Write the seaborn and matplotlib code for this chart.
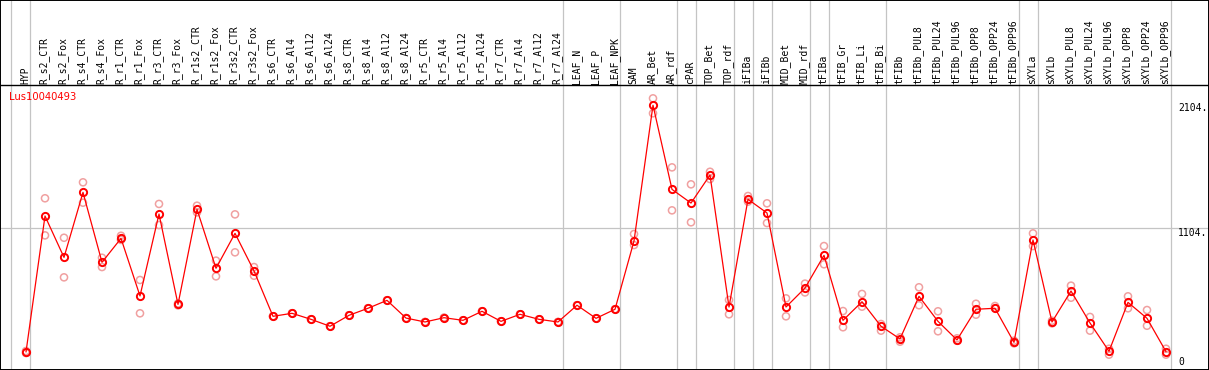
import matplotlib
matplotlib.use("Agg")
import matplotlib.pyplot as plt
import numpy as np
import seaborn as sns

gene = "Lus10040493"

samples = ["HYP", "R_s2_CTR", "R_s2_Fox", "R_s4_CTR", "R_s4_Fox", "R_r1_CTR", "R_r1_Fox",
           "R_r3_CTR", "R_r3_Fox", "R_r1s2_CTR", "R_r1s2_Fox", "R_r3s2_CTR", "R_r3s2_Fox",
           "R_s6_CTR", "R_s6_Al4", "R_s6_Al12", "R_s6_Al24", "R_s8_CTR", "R_s8_Al4", "R_s8_Al12",
           "R_s8_Al24", "R_r5_CTR", "R_r5_Al4", "R_r5_Al12", "R_r5_Al24", "R_r7_CTR", "R_r7_Al4",
           "R_r7_Al12", "R_r7_Al24", "LEAF_N", "LEAF_P", "LEAF_NPK", "SAM", "AR_Bet", "AR_rdf",
           "cPAR", "TOP_Bet", "TOP_rdf", "iFIBa", "iFIBb", "MID_Bet", "MID_rdf", "tFIBa",
           "tFIB_Gr", "tFIB_Li", "tFIB_Bi", "tFIBb", "tFIBb_PUL8", "tFIBb_PUL24", "tFIBb_PUL96",
           "tFIBb_OPP8", "tFIBb_OPP24", "tFIBb_OPP96", "sXYLa", "sXYLb", "sXYLb_PUL8",
           "sXYLb_PUL24", "sXYLb_PUL96", "sXYLb_OPP8", "sXYLb_OPP24", "sXYLb_OPP96"]

# number of samples in each group (grey separators between groups)
group_sizes = [1, 28, 3, 3, 1, 2, 1, 1, 2, 1, 3, 7, 1, 7]

mean = [120, 1202, 873, 1390, 834, 1024, 566, 1218, 499, 1255, 786, 1064, 765,
        404, 428, 380, 325, 412, 468, 531, 390, 359, 393, 372, 444, 364, 420, 380, 359,
        492, 388, 460, 1003, 2083, 1414, 1305, 1528, 478, 1335, 1226, 478, 629, 889,
        372, 520, 325, 224, 563, 364, 216, 460, 468, 197, 1011, 359, 605, 351, 126,
        515, 388, 123]
rep_a = [128, 1343, 1029, 1470, 870, 1045, 693, 1298, 506, 1284, 847, 1215, 796,
         404, 428, 380, 325, 412, 468, 531, 390, 359, 393, 372, 444, 364, 420, 380, 359,
         492, 388, 460, 1059, 2138, 1589, 1454, 1554, 534, 1361, 1303, 547, 664, 963,
         446, 582, 343, 237, 635, 444, 229, 504, 486, 210, 1064, 369, 648, 399, 146,
         563, 454, 146]
rep_b = [112, 1048, 714, 1308, 796, 1012, 428, 1130, 491, 1231, 722, 913, 727,
         404, 428, 380, 325, 412, 468, 531, 390, 359, 393, 372, 444, 364, 420, 380, 359,
         492, 388, 460, 971, 2019, 1247, 1152, 1496, 420, 1316, 1146, 404, 594, 818,
         317, 481, 290, 202, 492, 285, 210, 417, 468, 189, 963, 348, 552, 290, 99,
         468, 329, 99]

ytick_vals = [2104, 1104, 0]

sns.set_style("white")
plt.rcParams["font.family"] = ["DejaVu Sans Mono", "DejaVu Sans"]

W, H = 1209, 370
fig = plt.figure(figsize=(W / 100, H / 100), dpi=100)
ax = fig.add_axes([0, 0, 1, 1])

# pixel layout of the reference
x0_px, step_px = 26, 19
y0_px, px_per_unit = 367.1, 0.1257
ax.set_xlim(-x0_px / step_px, (W - x0_px) / step_px)
ax.set_ylim((y0_px - H) / px_per_unit, y0_px / px_per_unit)
ax.set_xticks([])
ax.set_yticks([])
for s in ax.spines.values():
    s.set_color("black")
    s.set_linewidth(1.4)

x = np.arange(len(samples))
grid_c = "#c4c4c4"

# separators
ends = np.concatenate([[0], np.cumsum(group_sizes)]) - 1
for e in ends:
    ax.axvline(e + 4.5 / step_px, color=grid_c, lw=0.9, zorder=1)
ax.axhline(1104, color=grid_c, lw=0.9, zorder=1)
label_line = (y0_px - 85) / px_per_unit
ax.axhline(label_line, color="black", lw=1.0, zorder=4)

# replicates
for rep in (rep_a, rep_b):
    sns.scatterplot(x=x, y=rep, ax=ax, marker="o", s=26, facecolor="none",
                    edgecolor="#f0a0a0", linewidth=1.1, zorder=2, legend=False)

# mean line
sns.lineplot(x=x, y=mean, ax=ax, color="red", lw=0.9, zorder=3, legend=False,
             marker="o", markersize=5.2, markerfacecolor="none",
             markeredgecolor="red", markeredgewidth=1.4)

# column labels
lab_y = (y0_px - 83.5) / px_per_unit
for i, name in enumerate(samples):
    ax.text(i - 0.05, lab_y, name, rotation=90, ha="center", va="bottom",
            fontsize=7, color="black", zorder=5)

# value labels on right
for v in ytick_vals:
    ax.text((1178 - x0_px) / step_px, v, f"{v}." if v else "0",
            ha="left", va="top" if v else "bottom", fontsize=7, color="black")

ax.text((9 - x0_px) / step_px, (y0_px - 92) / px_per_unit, gene, ha="left", va="top",
        fontsize=7.2, color="red", family="DejaVu Sans")

fig.savefig("out.png", dpi=100)
